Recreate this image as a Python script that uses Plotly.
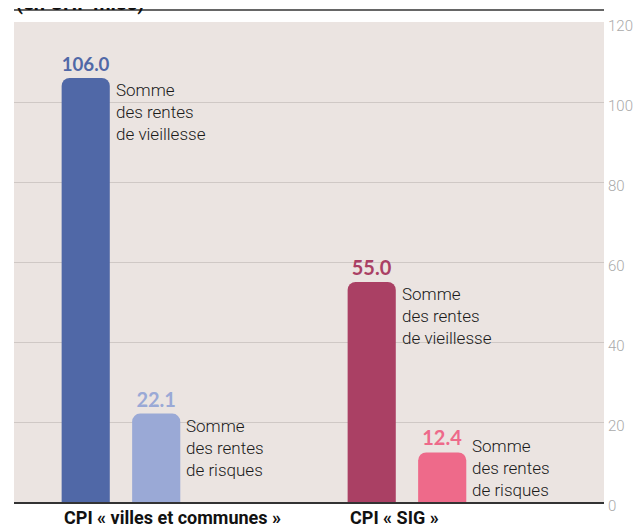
import plotly.graph_objects as go

# Données (en CHF mios)
groupes = ["CPI « villes et communes »", "CPI « SIG »"]
rentes_vieillesse = [106.0, 55.0]
rentes_risques = [22.1, 12.4]
couleurs_vieillesse = ["#5068a7", "#aa4064"]
couleurs_risques = ["#9aa9d6", "#ee6a8a"]
label_vieillesse = "Somme<br>des rentes<br>de vieillesse"
label_risques = "Somme<br>des rentes<br>de risques"
y_ticks = [0, 20, 40, 60, 80, 100, 120]

BARGAP = 0.507
BARGROUPGAP = 0.317
slot = (1 - BARGAP) / 2
half_w = slot * (1 - BARGROUPGAP) / 2

fig = go.Figure()
for vals, cols in ((rentes_vieillesse, couleurs_vieillesse), (rentes_risques, couleurs_risques)):
    fig.add_trace(
        go.Bar(
            x=groupes,
            y=vals,
            marker=dict(color=cols, line=dict(width=0)),
            texttemplate="%{y:.1f}",
            textposition="outside",
            textfont=dict(family="Lato", size=20, color=cols, weight="bold"),
            cliponaxis=False,
            showlegend=False,
        )
    )

# Textes à droite des barres
TEXT_H = 16  # hauteur approx. du bloc de texte, en unités de l'axe
for i in range(len(groupes)):
    for val, lab, sign in ((rentes_vieillesse[i], label_vieillesse, -1),
                           (rentes_risques[i], label_risques, 1)):
        x_right = i + sign * slot / 2 + half_w
        if val >= TEXT_H:
            y, anchor = val, "top"
        else:
            y, anchor = 0, "bottom"
        fig.add_annotation(
            x=x_right, y=y, xref="x", yref="y",
            text=lab, showarrow=False, align="left",
            xanchor="left", yanchor=anchor, xshift=4,
            font=dict(family="Roboto", size=17, color="#1a1a1a", weight=300),
        )
    # libellé de groupe, aligné à gauche sous la première barre
    fig.add_annotation(
        x=i - slot / 2 - half_w, y=0, xref="x", yref="paper",
        text=f"<b>{groupes[i]}</b>", showarrow=False,
        xanchor="left", yanchor="top", yshift=-3,
        font=dict(family="Roboto", size=18, color="#111111"),
    )

# titre coupé en haut
fig.add_annotation(
    x=0, y=1, xref="paper", yref="paper",
    text="<b>(en CHF mios)</b>", showarrow=False,
    xanchor="left", yanchor="bottom", yshift=5,
    font=dict(family="Roboto", size=20, color="#111111"),
)
fig.add_shape(
    type="line", xref="paper", yref="paper",
    x0=0, x1=1, y0=1.025, y1=1.025,
    line=dict(color="#333333", width=1.5),
)

fig.update_layout(
    width=641,
    height=527,
    barmode="group",
    bargap=BARGAP,
    bargroupgap=BARGROUPGAP,
    barcornerradius=8,
    plot_bgcolor="#ebe4e1",
    paper_bgcolor="white",
    margin=dict(l=6, r=45, t=14, b=33),
)
fig.update_xaxes(
    range=[-0.374, 1.689],
    showticklabels=False,
    showgrid=False,
    showline=True,
    linecolor="#333333",
    linewidth=1.5,
    ticks="",
)
fig.update_yaxes(
    range=[0, 120],
    side="right",
    tickvals=y_ticks,
    showgrid=True,
    gridcolor="#cfc8c5",
    gridwidth=1,
    zeroline=False,
    ticklabelstandoff=3,
    ticklabelshift=4,
    tickfont=dict(family="Roboto", size=15, color="#aaaaaa", weight=300),
)

fig.write_html("out.html")
